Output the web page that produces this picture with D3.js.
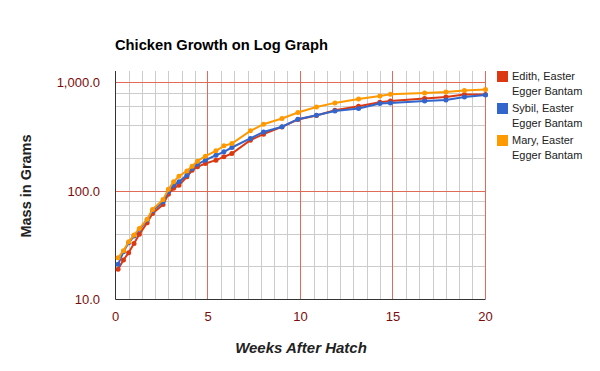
<!DOCTYPE html>
<html>
<head>
<meta charset="utf-8">
<script src="https://cdn.jsdelivr.net/npm/d3@7"></script>
<style>
  body { margin: 0; background: #fff; }
  svg { font-family: "Liberation Sans", Arial, sans-serif; }
</style>
</head>
<body>
<div id="chart"></div>
<script>
// weeks after hatch (shared by all three birds)
var weeks = [0.14, 0.43, 0.71, 1.0, 1.29, 1.71, 2.0, 2.57, 2.86, 3.14, 3.43, 3.86, 4.14, 4.43, 4.86,
  5.43, 5.86, 6.29, 7.29, 8.0, 9.0, 9.86, 10.86, 11.86, 13.14, 14.29, 14.86, 16.71, 17.86, 18.86, 20.0];

// mass in grams
var edith = [18.8, 22.9, 26.7, 32.6, 39.5, 50.5, 61.6, 74.3, 92.8, 105, 112, 134, 154, 166, 178,
  191, 205, 220, 292, 332, 387, 453, 493, 552, 601, 655, 673, 708, 732, 771, 771];
var sybil = [20.9, 27.3, 33.0, 38.1, 43.9, 53.5, 65.1, 78.8, 97.5, 112, 120.5, 139, 160, 175, 191,
  212, 228, 250, 303, 348, 389, 456, 497, 544, 572, 636, 645, 673, 687, 732, 764];
var mary = [24.0, 27.9, 33.7, 38.9, 44.8, 54.3, 67.1, 82.6, 103, 120.5, 136, 152, 168, 187, 208,
  233, 259, 272, 356, 410, 463, 526, 592, 645, 702, 748, 775, 797, 814, 838, 857];

var seriesNames = ["Edith, Easter Egger Bantam", "Sybil, Easter Egger Bantam", "Mary, Easter Egger Bantam"];
var seriesColors = ["#dc3912", "#3366cc", "#ff9900"];

var xMajorTicks = [0, 5, 10, 15, 20];
var yMajorTicks = [10, 100, 1000];
var yMinorTicks = [20, 40, 60, 80, 200, 400, 600, 800];

var W = 600, H = 371;
var plotLeft = 115.5, plotRight = 485.5, plotTop = 71, plotBottom = 299;

var x = d3.scaleLinear().domain([0, 20]).range([plotLeft, plotRight]);
var y = d3.scaleLog().domain([10, 1270]).range([plotBottom, plotTop]);

var svg = d3.select("#chart").append("svg").attr("width", W).attr("height", H);

// minor vertical grid every 5/7 week
var xMinor = d3.range(1, 28).filter(function(i) { return i % 7 !== 0; })
  .map(function(i) { return i * 5 / 7; });

svg.append("g").selectAll("line").data(xMinor).enter().append("line")
  .attr("x1", function(d) { return Math.round(x(d)) + 0.5; })
  .attr("x2", function(d) { return Math.round(x(d)) + 0.5; })
  .attr("y1", plotTop).attr("y2", plotBottom)
  .attr("stroke", "#cccccc");

svg.append("g").selectAll("line").data(yMinorTicks).enter().append("line")
  .attr("x1", plotLeft).attr("x2", plotRight)
  .attr("y1", function(d) { return Math.round(y(d)) + 0.5; })
  .attr("y2", function(d) { return Math.round(y(d)) + 0.5; })
  .attr("stroke", "#cccccc");

// major grid
svg.append("g").selectAll("line").data(xMajorTicks.slice(1)).enter().append("line")
  .attr("x1", function(d) { return Math.round(x(d)) - 0.5; })
  .attr("x2", function(d) { return Math.round(x(d)) - 0.5; })
  .attr("y1", plotTop).attr("y2", plotBottom)
  .attr("stroke", "#e06c58");

svg.append("g").selectAll("line").data(yMajorTicks.slice(1)).enter().append("line")
  .attr("x1", plotLeft).attr("x2", plotRight)
  .attr("y1", function(d) { return Math.round(y(d)) + 0.5; })
  .attr("y2", function(d) { return Math.round(y(d)) + 0.5; })
  .attr("stroke", "#e06c58");

// axis lines
svg.append("line").attr("x1", plotLeft).attr("x2", plotLeft).attr("y1", plotTop).attr("y2", plotBottom + 0.5)
  .attr("stroke", "#333333");
svg.append("line").attr("x1", plotLeft).attr("x2", plotRight).attr("y1", plotBottom + 0.5).attr("y2", plotBottom + 0.5)
  .attr("stroke", "#333333");

// tick labels
var fmt = d3.format(",.1f");
svg.append("g").selectAll("text").data(yMajorTicks).enter().append("text")
  .attr("x", 100).attr("y", function(d) { return y(d) + 5; })
  .attr("text-anchor", "end").attr("font-size", 13).attr("fill", "#7a0c0c")
  .text(function(d) { return fmt(d); });

svg.append("g").selectAll("text").data(xMajorTicks).enter().append("text")
  .attr("x", function(d) { return x(d); }).attr("y", 321)
  .attr("text-anchor", "middle").attr("font-size", 13).attr("fill", "#7a0c0c")
  .text(function(d) { return d; });

// lines and points
var series = [edith, sybil, mary];
var line = d3.line()
  .x(function(d, i) { return x(weeks[i]); })
  .y(function(d) { return y(d); });

series.forEach(function(vals, s) {
  svg.append("path").datum(vals)
    .attr("d", line).attr("fill", "none")
    .attr("stroke", seriesColors[s]).attr("stroke-width", 2);
  svg.append("g").selectAll("circle").data(vals).enter().append("circle")
    .attr("cx", function(d, i) { return x(weeks[i]); })
    .attr("cy", function(d) { return y(d); })
    .attr("r", 2.5).attr("fill", seriesColors[s]);
});

// title
svg.append("text").attr("x", 115).attr("y", 50)
  .attr("font-size", 14.7).attr("font-weight", "bold").attr("fill", "#000")
  .text("Chicken Growth on Log Graph");

// axis titles
svg.append("text").attr("x", 301).attr("y", 353)
  .attr("text-anchor", "middle").attr("font-size", 15)
  .attr("font-weight", "bold").attr("font-style", "italic").attr("fill", "#222")
  .text("Weeks After Hatch");

svg.append("text").attr("transform", "translate(31,186) rotate(-90)")
  .attr("text-anchor", "middle").attr("font-size", 14.5)
  .attr("font-weight", "bold").attr("fill", "#222")
  .text("Mass in Grams");

// legend
var legend = svg.append("g").selectAll("g").data(seriesNames).enter().append("g")
  .attr("transform", function(d, i) { return "translate(497," + (71 + i * 32) + ")"; });
legend.append("rect").attr("width", 11).attr("height", 11)
  .attr("fill", function(d, i) { return seriesColors[i]; });
legend.append("text").attr("x", 15).attr("y", 9).attr("font-size", 11).attr("fill", "#222")
  .text(function(d) { return d.split(" ").slice(0, 2).join(" "); });
legend.append("text").attr("x", 15).attr("y", 24).attr("font-size", 11).attr("fill", "#222")
  .text(function(d) { return d.split(" ").slice(2).join(" "); });
</script>
</body>
</html>
